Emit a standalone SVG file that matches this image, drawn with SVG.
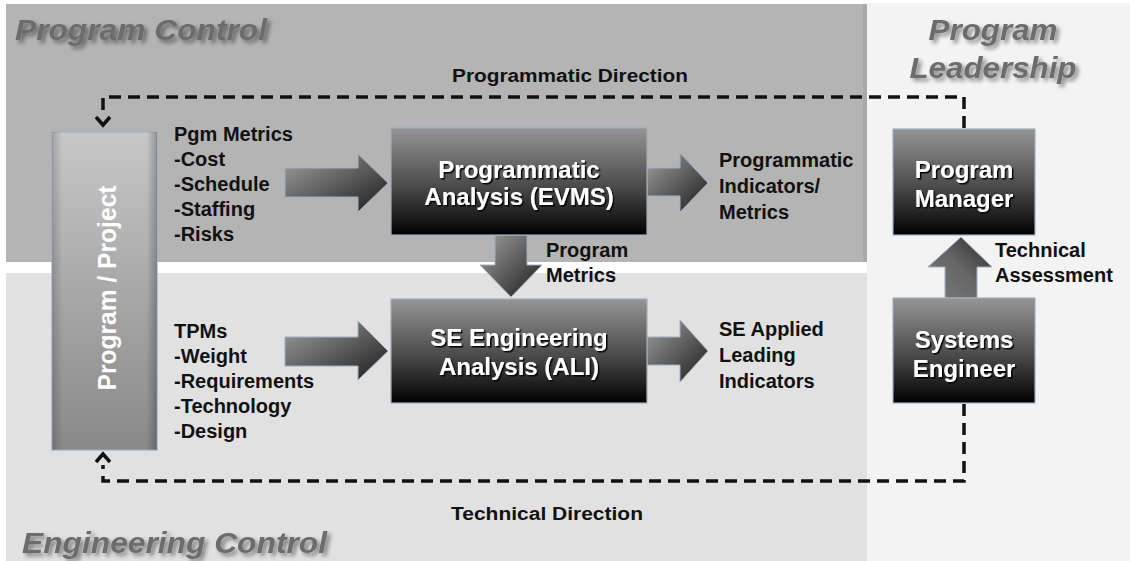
<svg xmlns="http://www.w3.org/2000/svg" width="1130" height="561" viewBox="0 0 1130 561">
<defs>
  <linearGradient id="gDark" x1="0" y1="0" x2="0" y2="1">
    <stop offset="0" stop-color="#959595"/>
    <stop offset="0.55" stop-color="#4a4a4a"/>
    <stop offset="1" stop-color="#000000"/>
  </linearGradient>
  <linearGradient id="gProj" x1="0" y1="0" x2="0" y2="1">
    <stop offset="0" stop-color="#c8c8c8"/>
    <stop offset="1" stop-color="#888888"/>
  </linearGradient>
  <linearGradient id="gProjEdge" x1="0" y1="0" x2="1" y2="0">
    <stop offset="0" stop-color="#000" stop-opacity="0.18"/>
    <stop offset="0.1" stop-color="#000" stop-opacity="0"/>
    <stop offset="0.9" stop-color="#000" stop-opacity="0"/>
    <stop offset="1" stop-color="#000" stop-opacity="0.25"/>
  </linearGradient>
  <linearGradient id="gArrow" x1="0" y1="0" x2="1" y2="1">
    <stop offset="0" stop-color="#a0a0a0"/>
    <stop offset="0.5" stop-color="#5e5e5e"/>
    <stop offset="1" stop-color="#1a1a1a"/>
  </linearGradient>
  <linearGradient id="gArrowUp" x1="0" y1="1" x2="1" y2="0">
    <stop offset="0" stop-color="#7a7a7a"/>
    <stop offset="0.5" stop-color="#666"/>
    <stop offset="1" stop-color="#2a2a2a"/>
  </linearGradient>
  <filter id="fTitle" x="-10%" y="-30%" width="120%" height="170%">
    <feDropShadow dx="3" dy="3" stdDeviation="2" flood-color="#000" flood-opacity="0.45"/>
  </filter>
  <filter id="fLabel" x="-10%" y="-30%" width="120%" height="170%">
    <feDropShadow dx="1.5" dy="1.5" stdDeviation="0.7" flood-color="#000" flood-opacity="0.95"/>
  </filter>
  <style>
    .title{font-family:"Liberation Sans",Arial,sans-serif;font-weight:bold;font-style:italic;font-size:29px;fill:#6c6c6c}
    .lbl{font-family:"Liberation Sans",Arial,sans-serif;font-weight:bold;font-size:20px;fill:#111}
    .dir{font-family:"Liberation Sans",Arial,sans-serif;font-weight:bold;font-size:18px;fill:#111}
    .box{stroke:#9fb0c2;stroke-width:1.2}
    .bt{font-family:"Liberation Sans",Arial,sans-serif;font-weight:bold;font-size:24px;fill:#fff;text-anchor:middle}
    .arr{fill:url(#gArrow);stroke:#9fb0c2;stroke-width:1}
    .dash{fill:none;stroke:#111;stroke-width:3.5;stroke-dasharray:12 7}
    .chev{fill:none;stroke:#111;stroke-width:3.5;stroke-linejoin:miter}
  </style>
</defs>

<g id="background">
  <rect x="0" y="0" width="1130" height="561" fill="#ffffff"/>
  <rect x="6" y="4" width="861" height="258" fill="#b4b4b4"/>
  <rect x="6" y="273" width="861" height="288" fill="#e1e1e1"/>
  <rect x="867" y="3" width="263" height="558" fill="#f3f3f3"/>
  <rect x="863" y="4" width="4" height="258" fill="#a9a9a9"/>
</g>

<g id="titles">
  <text class="title" x="15" y="40" textLength="252" lengthAdjust="spacingAndGlyphs" filter="url(#fTitle)">Program Control</text>
  <text class="title" x="993" y="40" text-anchor="middle" textLength="129" lengthAdjust="spacingAndGlyphs" filter="url(#fTitle)">Program</text>
  <text class="title" x="993" y="78" text-anchor="middle" textLength="167" lengthAdjust="spacingAndGlyphs" filter="url(#fTitle)">Leadership</text>
  <text class="title" x="22" y="553" textLength="305" lengthAdjust="spacingAndGlyphs" filter="url(#fTitle)">Engineering Control</text>
</g>

<g id="connectors">
  <path class="dash" d="M964,128 V97 H103 V115"/>
  <polyline class="chev" points="96,117 103,125 110,117"/>
  <path class="dash" d="M964,404 V481 H103 V465"/>
  <polyline class="chev" points="96,462 103,454 110,462"/>
  <text class="dir" x="570" y="82" text-anchor="middle" textLength="236" lengthAdjust="spacingAndGlyphs">Programmatic Direction</text>
  <text class="dir" x="547" y="520" text-anchor="middle" textLength="192" lengthAdjust="spacingAndGlyphs">Technical Direction</text>
  <path class="arr" d="M285,168 L358,168 L358,154 L388,183 L358,212 L358,197 L285,197 Z"/>
  <path class="arr" d="M285,337 L358,337 L358,321 L388,351 L358,380 L358,366 L285,366 Z"/>
  <path class="arr" d="M647,168 L680,168 L680,153 L708,183 L680,212 L680,196 L647,196 Z"/>
  <path class="arr" d="M647,337 L680,337 L680,320 L708,351 L680,382 L680,365 L647,365 Z"/>
  <path class="arr" d="M495,235 L527,235 L527,265 L542,265 L511,297 L480,265 L495,265 Z"/>
  <path class="arr" style="fill:url(#gArrowUp)" d="M945,298 L945,267 L928,267 L961,237 L992,267 L977,267 L977,298 Z"/>
</g>

<g id="labels">
  <text class="lbl" x="174" y="141">Pgm Metrics</text>
  <text class="lbl" x="174" y="166">-Cost</text>
  <text class="lbl" x="174" y="191">-Schedule</text>
  <text class="lbl" x="174" y="216">-Staffing</text>
  <text class="lbl" x="174" y="241">-Risks</text>
  <text class="lbl" x="174" y="338">TPMs</text>
  <text class="lbl" x="174" y="363">-Weight</text>
  <text class="lbl" x="174" y="388">-Requirements</text>
  <text class="lbl" x="174" y="413">-Technology</text>
  <text class="lbl" x="174" y="438">-Design</text>
  <text class="lbl" x="719" y="167">Programmatic</text>
  <text class="lbl" x="719" y="193">Indicators/</text>
  <text class="lbl" x="719" y="219">Metrics</text>
  <text class="lbl" x="546" y="257">Program</text>
  <text class="lbl" x="546" y="282">Metrics</text>
  <text class="lbl" x="719" y="336">SE Applied</text>
  <text class="lbl" x="719" y="362">Leading</text>
  <text class="lbl" x="719" y="388">Indicators</text>
  <text class="lbl" x="995" y="257">Technical</text>
  <text class="lbl" x="995" y="282">Assessment</text>
</g>

<g id="program-project">
  <rect class="box" x="52" y="132" width="105" height="318" fill="url(#gProj)"/>
  <rect x="52" y="132" width="105" height="318" fill="url(#gProjEdge)"/>
  <text transform="translate(116,288) rotate(-90)" x="0" y="0" text-anchor="middle" font-family="Liberation Sans, Arial, sans-serif" font-weight="bold" font-size="25" fill="#fff" textLength="205" lengthAdjust="spacingAndGlyphs">Program / Project</text>
</g>

<g id="programmatic-analysis">
  <rect class="box" x="391" y="128" width="256" height="107" fill="url(#gDark)"/>
  <text class="bt" x="519" y="178" filter="url(#fLabel)">Programmatic</text>
  <text class="bt" x="519" y="205" filter="url(#fLabel)">Analysis (EVMS)</text>
</g>

<g id="se-analysis">
  <rect class="box" x="391" y="299" width="256" height="104" fill="url(#gDark)"/>
  <text class="bt" x="519" y="346" filter="url(#fLabel)">SE Engineering</text>
  <text class="bt" x="519" y="375" filter="url(#fLabel)">Analysis (ALI)</text>
</g>

<g id="program-manager">
  <rect class="box" x="893" y="129" width="142" height="106" fill="url(#gDark)"/>
  <text class="bt" x="964" y="178" filter="url(#fLabel)">Program</text>
  <text class="bt" x="964" y="207" filter="url(#fLabel)">Manager</text>
</g>

<g id="systems-engineer">
  <rect class="box" x="893" y="298" width="142" height="105" fill="url(#gDark)"/>
  <text class="bt" x="964" y="348" filter="url(#fLabel)">Systems</text>
  <text class="bt" x="964" y="377" filter="url(#fLabel)">Engineer</text>
</g>
</svg>
